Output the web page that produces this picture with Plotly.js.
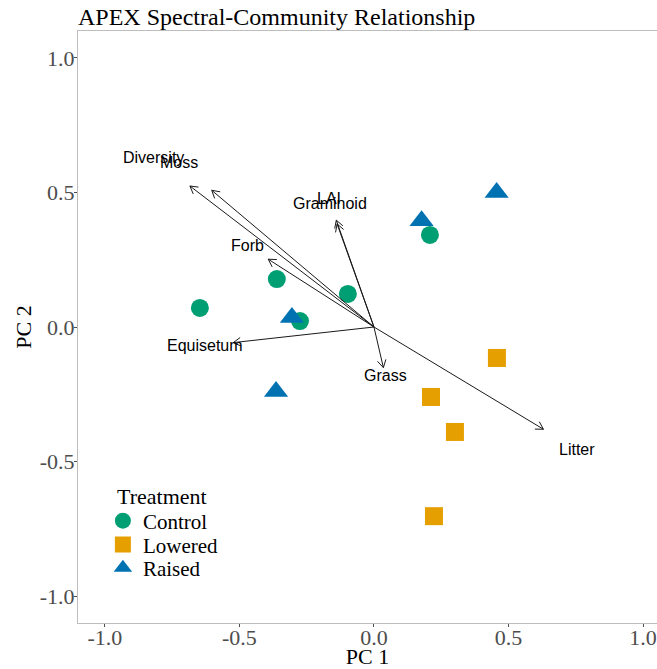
<!DOCTYPE html>
<html>
<head>
<meta charset="utf-8">
<script src="https://cdn.plot.ly/plotly-3.0.1.min.js"></script>
<style>html,body{margin:0;padding:0;background:#fff;}#chart{width:657px;height:669px;}</style>
</head>
<body>
<div id="chart"></div>
<script>
// ---- data ----
const treatments = ['Control', 'Lowered', 'Raised'];
const controlPC1 = [-0.647, -0.361, -0.275, -0.097, 0.208];
const controlPC2 = [0.071, 0.178, 0.022, 0.123, 0.342];
const loweredPC1 = [0.457, 0.212, 0.301, 0.223];
const loweredPC2 = [-0.115, -0.260, -0.390, -0.703];
const raisedPC1 = [0.456, 0.177, -0.305, -0.364];
const raisedPC2 = [0.500, 0.395, 0.035, -0.240];

const variables = ['Diversity', 'Moss', 'LAI', 'Graminoid', 'Forb', 'Equisetum', 'Grass', 'Litter'];
const loadPC1 = [-0.684, -0.603, -0.140, -0.137, -0.393, -0.523, 0.035, 0.630];
const loadPC2 = [0.524, 0.508, 0.397, 0.383, 0.252, -0.058, -0.151, -0.380];

const xTicks = [-1.0, -0.5, 0.0, 0.5, 1.0];
const yTicks = [-1.0, -0.5, 0.0, 0.5, 1.0];
const xTickText = ['-1.0', '-0.5', '0.0', '0.5', '1.0'];
const yTickText = ['-1.0', '-0.5', '0.0', '0.5', '1.0'];

// ---- styles ----
const colors = {Control: '#009E73', Lowered: '#E69F00', Raised: '#0072B2'};
const symbols = {Control: 'circle', Lowered: 'square', Raised: 'triangle-up'};
const sizes = {Control: 18, Lowered: 18, Raised: 21};
const legendIds = {Control: 'legend', Lowered: 'legend2', Raised: 'legend3'};
const labelScale = 1.2;
const headLen = 0.032;
const headAng = Math.PI / 6;

const series = {
  Control: [controlPC1, controlPC2],
  Lowered: [loweredPC1, loweredPC2],
  Raised: [raisedPC1, raisedPC2]
};

const traces = treatments.map(t => ({
  type: 'scatter', mode: 'markers', name: t, legend: legendIds[t],
  x: series[t][0], y: series[t][1],
  marker: {color: colors[t], symbol: symbols[t], size: sizes[t], line: {width: 0}},
  hoverinfo: 'x+y+name'
}));

// arrows (shaft + open V head), derived from loadings
const ax = [], ay = [];
variables.forEach((v, i) => {
  const tx = loadPC1[i], ty = loadPC2[i];
  const len = Math.hypot(tx, ty);
  const dx = tx / len, dy = ty / len;
  ax.push(0, tx, null);
  ay.push(0, ty, null);
  [headAng, -headAng].forEach(a => {
    const rx = dx * Math.cos(a) - dy * Math.sin(a);
    const ry = dx * Math.sin(a) + dy * Math.cos(a);
    ax.push(tx - headLen * rx, tx, null);
    ay.push(ty - headLen * ry, ty, null);
  });
});
traces.push({
  type: 'scatter', mode: 'lines', x: ax, y: ay, showlegend: false,
  hoverinfo: 'skip', line: {color: '#1a1a1a', width: 1}
});

const serif = 'Liberation Serif, Times New Roman, serif';

const annotations = variables.map((v, i) => ({
  x: loadPC1[i] * labelScale, y: loadPC2[i] * labelScale,
  xref: 'x', yref: 'y', text: v, showarrow: false,
  font: {family: 'Liberation Sans, Arial, sans-serif', size: 16, color: '#000'}
}));
annotations.push({
  x: 0.064, y: 0.213, xref: 'paper', yref: 'paper', xanchor: 'left', yanchor: 'middle',
  text: 'Treatment', showarrow: false,
  font: {family: serif, size: 22, color: '#000'}
});

const axisCommon = {
  showgrid: false, zeroline: false, showline: true, mirror: true,
  linecolor: '#bdbdbd', linewidth: 1,
  ticks: 'outside', ticklen: 3, tickcolor: '#4d4d4d', tickwidth: 1,
  tickfont: {family: serif, size: 22, color: '#4d4d4d'}
};

function legendAt(y) {
  return {
    x: 0.043, y: y, xanchor: 'left', yanchor: 'middle',
    bgcolor: 'rgba(0,0,0,0)', itemwidth: 30,
    font: {family: serif, size: 21, color: '#000'}
  };
}

const layout = {
  width: 657, height: 669,
  margin: {l: 78, r: 0, t: 31, b: 46},
  paper_bgcolor: '#fff', plot_bgcolor: '#fff',
  title: {text: 'APEX Spectral-Community Relationship', x: 0, xref: 'paper', xanchor: 'left',
          y: 0.975, yref: 'container', yanchor: 'middle',
          font: {family: serif, size: 24, color: '#000'}},
  xaxis: Object.assign({}, axisCommon, {
    range: [-1.1, 1.052], tickvals: xTicks, ticktext: xTickText, ticklabelstandoff: -8,
    title: {text: 'PC 1', standoff: 0, font: {family: serif, size: 22, color: '#000'}}
  }),
  yaxis: Object.assign({}, axisCommon, {
    range: [-1.1, 1.1], tickvals: yTicks, ticktext: yTickText, ticklabelstandoff: -5,
    title: {text: 'PC 2', standoff: 2, font: {family: serif, size: 22, color: '#000'}}
  }),
  showlegend: true,
  legend: legendAt(0.1723),
  legend2: legendAt(0.1318),
  legend3: legendAt(0.0929),
  annotations: annotations
};

Plotly.newPlot('chart', traces, layout, {displayModeBar: false, staticPlot: true});
</script>
</body>
</html>
